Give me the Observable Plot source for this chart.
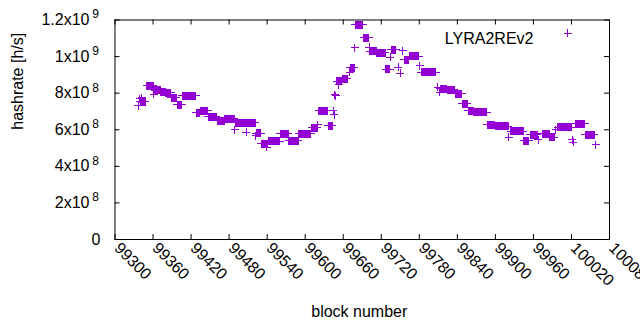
<!DOCTYPE html>
<html><head><meta charset="utf-8">
<script src="https://cdn.jsdelivr.net/npm/d3@7"></script>
<script src="https://cdn.jsdelivr.net/npm/@observablehq/plot@0.6"></script>
<style>
html,body{margin:0;padding:0;background:#fff;}
#chart svg{display:block;}
</style></head><body><div id="chart"></div>
<script>
// Runs of consecutive blocks sharing one hashrate value
const runStart = [99337,99339,99340,99342,99350,99361,99363,99372,99380,99389,99398,99406,99428,99435,99447,99461,99473,99489,99490,99507,99508,99522,99523,99531,99539,99542,99561,99574,99590,99610,99620,99621,99636,99644,99646,99647,99648,99650,99653,99659,99670,99671,99678,99679,99692,99701,99702,99713,99727,99734,99736,99747,99750,99754,99756,99764,99781,99783,99809,99812,99813,99824,99837,99848,99857,99866,99887,99900,99921,99924,99945,99955,99968,99974,99986,99995,99998,100021,100023,100026,100042,100058];
const runEnd   = [99337,99339,99348,99342,99360,99361,99371,99379,99388,99397,99405,99427,99434,99446,99460,99472,99488,99489,99506,99507,99521,99522,99530,99541,99539,99560,99573,99589,99609,99619,99620,99635,99643,99644,99646,99647,99648,99658,99653,99666,99670,99677,99678,99691,99700,99701,99712,99726,99733,99734,99743,99747,99750,99754,99763,99779,99781,99806,99809,99812,99823,99835,99847,99856,99865,99886,99899,99920,99921,99944,99953,99966,99968,99985,99993,99995,100020,100021,100023,100041,100056,100058];
const runHashrate = [732e6,770e6,752e6,775e6,840e6,794e6,815e6,808e6,801e6,774e6,736e6,785e6,693e6,704e6,671e6,650e6,659e6,600e6,637e6,586e6,637e6,566e6,580e6,523e6,505e6,538e6,577e6,540e6,577e6,612e6,628e6,705e6,622e6,705e6,683e6,792e6,785e6,865e6,847e6,880e6,914e6,938e6,1047e6,1173e6,1102e6,1050e6,1028e6,1020e6,932e6,996e6,1038e6,941e6,910e6,1032e6,982e6,1002e6,950e6,914e6,832e6,805e6,823e6,818e6,796e6,741e6,703e6,695e6,626e6,619e6,559e6,592e6,541e6,572e6,545e6,579e6,559e6,599e6,613e6,545e6,532e6,632e6,572e6,517e6];
const seriesName = "LYRA2REv2";
const xTicks = [99300,99360,99420,99480,99540,99600,99660,99720,99780,99840,99900,99960,100020,100080];
const yTicks = [0,2e8,4e8,6e8,8e8,1e9,1.2e9];
const yTickMantissa = ["0","2","4","6","8","1","1.2"];
const yTickExponent = ["","8","8","8","8","9","9"];
const xLabel = "block number";
const yLabel = "hashrate [h/s]";

// one point per block inside each run
const points = [];
runStart.forEach((s, i) => {
  for (let b = s; b <= runEnd[i]; b++) points.push({block: b, hashrate: runHashrate[i]});
});

// y tick label table built from the arrays
const yLab = yTicks.map((v, i) => ({v, base: yTickExponent[i] ? yTickMantissa[i] + "x10" : yTickMantissa[i], exp: yTickExponent[i]}));
const yLabPlain = yLab.filter(d => !d.exp);
const yLabSci = yLab.filter(d => d.exp);

const W = 640, H = 330, mt = 19.5, mb = 91, ml = 114.5, mr = 31;
const fw = W - ml - mr, fh = H - mt - mb, tl = 5;
const color = "#9400d3";
const plusSym = {draw(ctx) { const r = 4; ctx.moveTo(-r, 0); ctx.lineTo(r, 0); ctx.moveTo(0, -r); ctx.lineTo(0, r); }};

const chart = Plot.plot({
  width: W, height: H,
  marginTop: mt, marginBottom: mb, marginLeft: ml, marginRight: mr,
  style: {fontFamily: "'Liberation Sans', Arial, sans-serif", fontSize: "16px", color: "black", background: "white"},
  x: {domain: [99300, 100080]},
  y: {domain: [0, 1.2e9], axis: null},
  marks: [
    Plot.frame({stroke: "black", strokeWidth: 1}),
    Plot.tickX(xTicks, {x: d => d, insetTop: fh - tl, stroke: "black"}),
    Plot.tickX(xTicks, {x: d => d, insetBottom: fh - tl, stroke: "black"}),
    Plot.tickY(yTicks, {y: d => d, insetRight: fw - tl, stroke: "black"}),
    Plot.tickY(yTicks, {y: d => d, insetLeft: fw - tl, stroke: "black"}),
    Plot.axisX(xTicks, {tickSize: 0, tickRotate: 45, tickPadding: 6, dx: 2, label: null, tickFormat: d => String(d), fontSize: 16}),
    Plot.text(yLabPlain, {y: "v", text: "base", frameAnchor: "left", dx: -14.5, textAnchor: "end", fontSize: 16}),
    Plot.text(yLabSci, {y: "v", text: "base", frameAnchor: "left", dx: -25.5, textAnchor: "end", fontSize: 16}),
    Plot.text(yLabSci, {y: "v", text: "exp", frameAnchor: "left", dx: -16, dy: -5.5, textAnchor: "end", fontSize: 12}),
    Plot.text([yLabel], {x: null, y: null, text: d => d, frameAnchor: "left", dx: -97.5, rotate: -90, fontSize: 16}),
    Plot.text([xLabel], {x: null, y: null, text: d => d, frameAnchor: "bottom", dx: -3, dy: 77, fontSize: 16}),
    Plot.text([seriesName], {x: null, y: null, text: d => d, frameAnchor: "top-right", dx: -76, dy: 13, textAnchor: "end", fontSize: 16}),
    Plot.dot([seriesName], {x: null, y: null, frameAnchor: "top-right", dx: -42, dy: 13, symbol: plusSym, stroke: color, fill: "none", strokeWidth: 1, shapeRendering: "crispEdges"}),
    Plot.dot(points, {x: "block", y: "hashrate", symbol: plusSym, stroke: color, fill: "none", strokeWidth: 1, shapeRendering: "crispEdges"})
  ]
});

document.getElementById("chart").appendChild(chart);
</script></body></html>
